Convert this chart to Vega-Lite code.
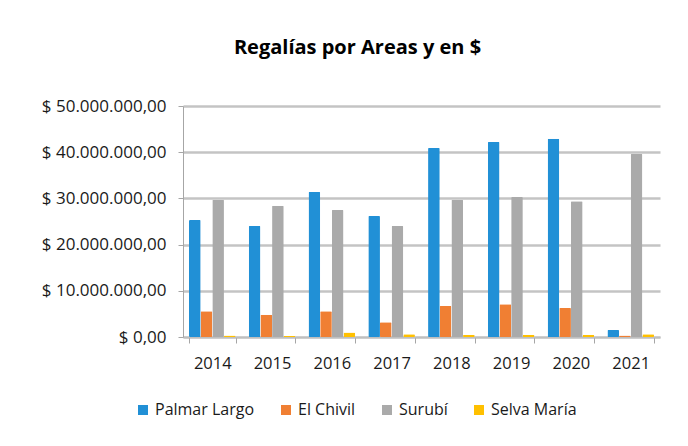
{
  "$schema": "https://vega.github.io/schema/vega-lite/v6.json",
  "width": 477,
  "height": 231,
  "autosize": {"type": "none"},
  "padding": {"left": 183, "top": 106, "right": 28, "bottom": 109},
  "background": "white",
  "title": {
    "text": "Regalías por Areas y en $",
    "font": "Open Sans",
    "fontSize": 20,
    "fontWeight": "bold",
    "color": "#000000",
    "anchor": "middle",
    "dx": -64,
    "offset": 39
  },
  "config": {
    "locale": {
      "number": {"decimal": ",", "thousands": ".", "grouping": [3], "currency": ["$ ", ""]}
    },
    "view": {"stroke": null},
    "font": "Open Sans"
  },
  "data": {
    "values": [
      {"year": "2014", "area": "Palmar Largo", "value": 25300000},
      {"year": "2014", "area": "El Chivil", "value": 5600000},
      {"year": "2014", "area": "Surubí", "value": 29700000},
      {"year": "2014", "area": "Selva María", "value": 300000},
      {"year": "2015", "area": "Palmar Largo", "value": 24000000},
      {"year": "2015", "area": "El Chivil", "value": 4800000},
      {"year": "2015", "area": "Surubí", "value": 28400000},
      {"year": "2015", "area": "Selva María", "value": 200000},
      {"year": "2016", "area": "Palmar Largo", "value": 31400000},
      {"year": "2016", "area": "El Chivil", "value": 5600000},
      {"year": "2016", "area": "Surubí", "value": 27500000},
      {"year": "2016", "area": "Selva María", "value": 1000000},
      {"year": "2017", "area": "Palmar Largo", "value": 26200000},
      {"year": "2017", "area": "El Chivil", "value": 3200000},
      {"year": "2017", "area": "Surubí", "value": 24000000},
      {"year": "2017", "area": "Selva María", "value": 600000},
      {"year": "2018", "area": "Palmar Largo", "value": 40900000},
      {"year": "2018", "area": "El Chivil", "value": 6700000},
      {"year": "2018", "area": "Surubí", "value": 29700000},
      {"year": "2018", "area": "Selva María", "value": 500000},
      {"year": "2019", "area": "Palmar Largo", "value": 42200000},
      {"year": "2019", "area": "El Chivil", "value": 7100000},
      {"year": "2019", "area": "Surubí", "value": 30300000},
      {"year": "2019", "area": "Selva María", "value": 500000},
      {"year": "2020", "area": "Palmar Largo", "value": 42900000},
      {"year": "2020", "area": "El Chivil", "value": 6300000},
      {"year": "2020", "area": "Surubí", "value": 29400000},
      {"year": "2020", "area": "Selva María", "value": 500000},
      {"year": "2021", "area": "Palmar Largo", "value": 1500000},
      {"year": "2021", "area": "El Chivil", "value": 300000},
      {"year": "2021", "area": "Surubí", "value": 39600000},
      {"year": "2021", "area": "Selva María", "value": 600000}
    ]
  },
  "mark": {"type": "bar", "cornerRadius": 1},
  "encoding": {
    "x": {
      "field": "year",
      "type": "nominal",
      "scale": {"paddingInner": 0.22, "paddingOuter": 0.1},
      "axis": {
        "title": null,
        "labelAngle": 0,
        "labelFontSize": 16.5,
        "labelColor": "#1a1a1a",
        "labelPadding": 12,
        "tickBand": "extent",
        "tickColor": "#a6a6a6",
        "tickSize": 6,
        "domainColor": "#bfbfbf",
        "domainWidth": 1.5
      }
    },
    "xOffset": {
      "field": "area",
      "type": "nominal",
      "sort": ["Palmar Largo", "El Chivil", "Surubí", "Selva María"],
      "scale": {"paddingInner": 0}
    },
    "y": {
      "field": "value",
      "type": "quantitative",
      "scale": {"domain": [0, 50000000]},
      "axis": {
        "title": null,
        "values": [0, 10000000, 20000000, 30000000, 40000000, 50000000],
        "format": "$,.2f",
        "labelFontSize": 17,
        "labelColor": "#1a1a1a",
        "labelPadding": 12,
        "tickColor": "#a6a6a6",
        "tickSize": 5,
        "domainColor": "#a6a6a6",
        "gridColor": "#c4c4c4",
        "gridWidth": 2.5
      }
    },
    "color": {
      "field": "area",
      "type": "nominal",
      "sort": ["Palmar Largo", "El Chivil", "Surubí", "Selva María"],
      "scale": {
        "domain": ["Palmar Largo", "El Chivil", "Surubí", "Selva María"],
        "range": ["#2190d6", "#f07f33", "#aaaaaa", "#ffc000"]
      },
      "legend": {
        "title": null,
        "orient": "none",
        "legendX": -48,
        "legendY": 296,
        "direction": "horizontal",
        "symbolType": "square",
        "symbolSize": 100,
        "symbolStrokeWidth": 0,
        "labelFontSize": 16,
        "labelColor": "#1a1a1a",
        "columnPadding": 23,
        "labelOffset": 4
      }
    }
  }
}
